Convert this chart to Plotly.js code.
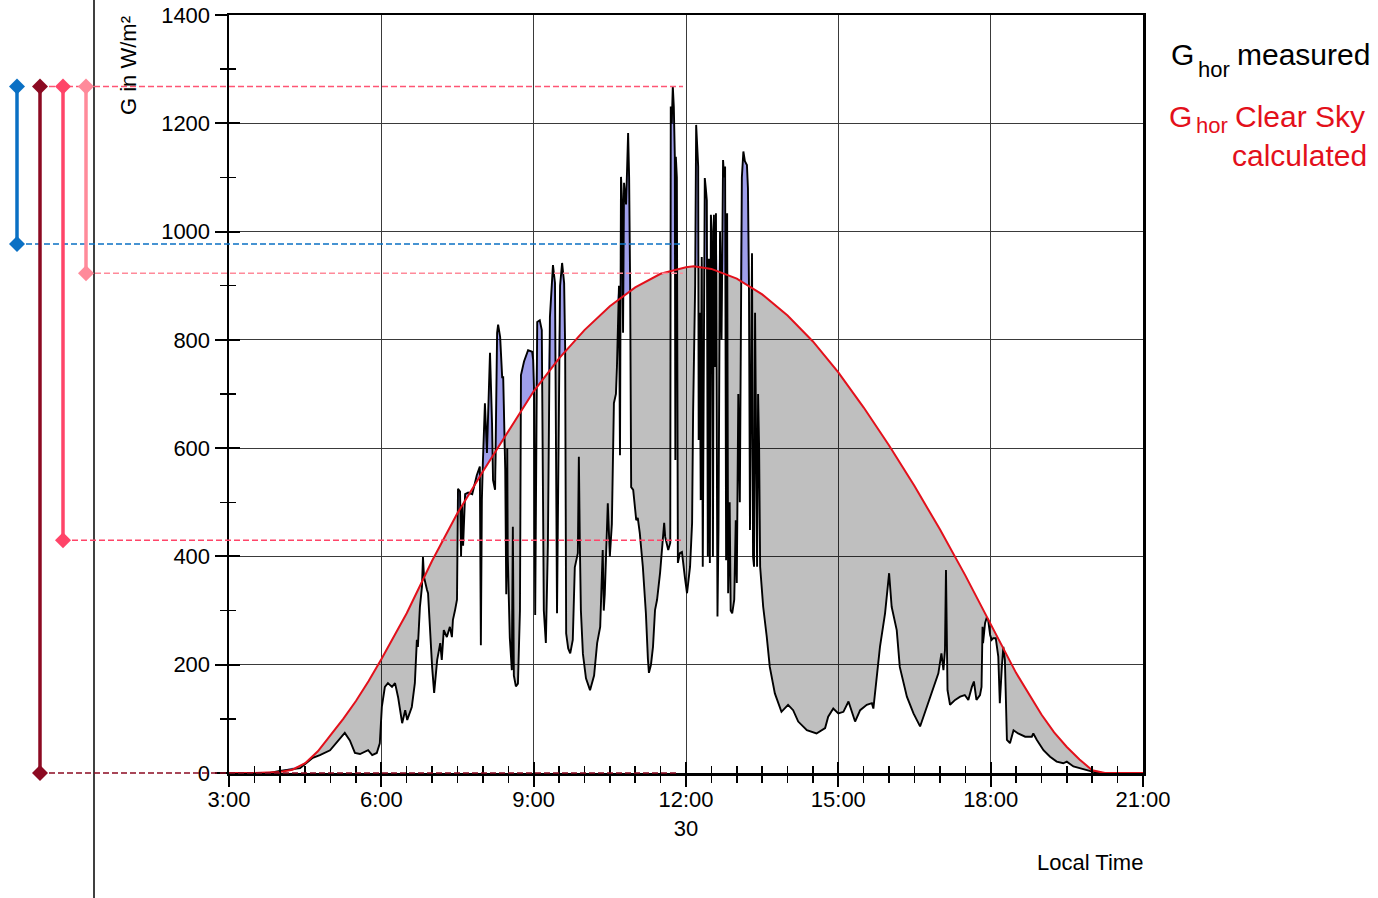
<!DOCTYPE html>
<html><head><meta charset="utf-8">
<script src="https://cdn.plot.ly/plotly-3.0.1.min.js"></script>
<style>html,body{margin:0;padding:0;background:#fff}#chart{width:1378px;height:898px}</style>
</head><body><div id="chart"></div>
<script>
// ---- data (hours of local time, W/m²) ----
const xTickVals = [3, 6, 9, 12, 15, 18, 21];
const xTickText = ['3:00', '6:00', '9:00', '12:00<br>30', '15:00', '18:00', '21:00'];

const csTime = [3, 3.5, 4, 4.25, 4.5, 4.75, 5, 5.25, 5.5, 5.75, 6, 6.5, 7, 7.5, 8, 8.5, 9, 9.5, 10, 10.5, 11, 11.5, 12, 12.15, 12.5, 13, 13.5, 14, 14.5, 15, 15.5, 16, 16.5, 17, 17.5, 18, 18.5, 19, 19.25, 19.5, 19.75, 20, 20.25, 21];
const csValue = [0, 0, 2, 6, 18, 40, 70, 100, 133, 170, 210, 295, 392, 480, 557, 632, 705, 766, 818, 862, 897, 922, 934, 936, 931, 913, 884, 845, 797, 740, 675, 605, 530, 450, 365, 275, 185, 108, 75, 48, 25, 5, 0, 0];

const measTime = [
3.00, 3.80, 4.00, 4.40, 4.65, 4.79, 4.99, 5.13, 5.28, 5.38, 5.48, 5.58, 5.74, 5.82, 5.91, 5.97,
6.01, 6.07, 6.13, 6.21, 6.27, 6.33, 6.41, 6.47, 6.51, 6.60, 6.66, 6.70, 6.72, 6.76, 6.80, 6.82, 6.84, 6.90, 6.92,
7.00, 7.04, 7.10, 7.16, 7.19, 7.23, 7.29, 7.35, 7.39, 7.41, 7.45, 7.49, 7.51, 7.55, 7.57, 7.59, 7.61, 7.65, 7.71, 7.79, 7.88, 7.94, 7.96, 7.98,
8.00, 8.04, 8.08, 8.14, 8.18, 8.20, 8.24, 8.28, 8.30, 8.34, 8.38, 8.40, 8.44, 8.46, 8.48, 8.49, 8.53, 8.57, 8.59, 8.61, 8.65, 8.69, 8.73, 8.75, 8.81, 8.89, 8.97, 8.99,
9.01, 9.03, 9.07, 9.12, 9.16, 9.18, 9.20, 9.24, 9.28, 9.32, 9.34, 9.38, 9.42, 9.44, 9.46, 9.48, 9.52, 9.56, 9.60, 9.62, 9.64, 9.68, 9.72, 9.77, 9.81, 9.87, 9.89, 9.91, 9.93, 9.97,
10.03, 10.11, 10.19, 10.25, 10.31, 10.36, 10.38, 10.40, 10.46, 10.50, 10.54, 10.58, 10.62, 10.64, 10.68, 10.70, 10.72, 10.74, 10.76, 10.78, 10.82, 10.86, 10.88, 10.90, 10.92, 10.96,
11.02, 11.05, 11.09, 11.15, 11.21, 11.25, 11.27, 11.31, 11.35, 11.39, 11.43, 11.49, 11.53, 11.57, 11.59, 11.65, 11.69, 11.70, 11.72, 11.74, 11.76, 11.78, 11.79, 11.80, 11.82, 11.84, 11.88, 11.92, 11.98,
12.02, 12.08, 12.12, 12.14, 12.18, 12.20, 12.22, 12.24, 12.25, 12.27, 12.29, 12.31, 12.33, 12.35, 12.37, 12.39, 12.41, 12.43, 12.45, 12.47, 12.49, 12.51, 12.53, 12.55, 12.57, 12.59, 12.62, 12.64, 12.67, 12.70, 12.73, 12.75, 12.77, 12.79, 12.81, 12.83, 12.86, 12.88, 12.91, 12.95, 12.98,
13.00, 13.03, 13.06, 13.10, 13.13, 13.16, 13.20, 13.22, 13.24, 13.26, 13.28, 13.30, 13.32, 13.34, 13.36, 13.38, 13.40, 13.42, 13.44, 13.46, 13.52, 13.59, 13.65, 13.75, 13.88,
14.01, 14.11, 14.21, 14.38, 14.57, 14.74, 14.80, 14.90,
15.00, 15.10, 15.20, 15.26, 15.33, 15.43, 15.56, 15.66, 15.69, 15.82, 15.92,
16.00, 16.05, 16.15, 16.21, 16.35, 16.48, 16.61, 16.74, 16.87, 16.97,
17.03, 17.07, 17.10, 17.12, 17.15, 17.20, 17.30, 17.40, 17.49, 17.56, 17.63, 17.67, 17.72, 17.79, 17.82, 17.84, 17.85, 17.89, 17.92, 17.95, 17.99,
18.02, 18.05, 18.10, 18.15, 18.18, 18.22, 18.25, 18.28, 18.32, 18.38, 18.45, 18.54, 18.68, 18.81, 18.84, 18.91,
19.04, 19.17, 19.30, 19.43, 19.50, 19.63, 19.82, 20.02, 20.20, 21.00];
const measValue = [
0, 0, 4, 9, 28, 33, 42, 57, 74, 60, 37, 35, 42, 33, 37, 55,
122, 159, 166, 159, 166, 140, 92, 116, 98, 122, 166, 246, 233, 307, 344, 399, 362, 338, 332,
196, 148, 209, 240, 209, 264, 251, 270, 251, 283, 300, 320, 525, 520, 400, 495, 420, 515, 518, 515, 550, 566, 236, 504,
575, 683, 591, 776, 646, 541, 523, 813, 828, 805, 731, 731, 560, 330, 600, 400, 250, 190, 455, 180, 160, 165, 300, 735, 760, 781, 778, 763,
700, 292, 833, 836, 818, 600, 300, 240, 420, 842, 870, 938, 905, 600, 295, 500, 900, 942, 905, 787, 258, 230, 221, 246, 380, 406, 584, 420, 300, 220,
175, 153, 180, 240, 270, 412, 300, 330, 498, 400, 460, 683, 700, 750, 900, 587, 1101, 1060, 813, 1090, 1050, 1182, 1100, 900, 528, 523,
467, 471, 443, 381, 295, 210, 185, 200, 233, 301, 320, 370, 420, 462, 436, 412, 425, 1231, 1200, 1268, 1231, 1138, 578, 1138, 1100, 388, 406, 408, 360,
332, 381, 462, 667, 900, 1197, 1151, 1120, 615, 850, 504, 953, 381, 700, 1099, 1080, 1058, 400, 950, 388, 1031, 1000, 399, 1031, 750, 1034, 289, 450, 1000, 800, 1132, 1100, 1120, 393, 1034, 332, 500, 300, 295, 320, 467,
351, 700, 500, 1100, 1148, 1130, 1123, 1080, 900, 449, 700, 960, 400, 381, 850, 500, 381, 700, 600, 381, 307, 252, 196, 147, 113,
126, 116, 95, 79, 73, 83, 104, 119,
110, 113, 132, 116, 95, 116, 126, 129, 119, 233, 295,
369, 307, 264, 196, 141, 110, 86, 122, 159, 184,
221, 190, 227, 375, 153, 126, 135, 141, 144, 135, 159, 169, 135, 144, 159, 270, 240, 277, 286, 283, 255,
246, 249, 249, 215, 129, 196, 233, 209, 61, 55, 79, 73, 67, 67, 73, 61,
42, 30, 21, 18, 21, 12, 7, 2, 0, 0];

// marked ranges on the left (W/m²)
const rangeTop = 1268;
const rangeLow = [977, 0, 430, 923];

// ---- styling ----
const FONT = '"Liberation Sans", Arial, Helvetica, sans-serif';
const RED = '#e3101b';
const Y_MAX = 1400;
const rangeColors = ['#0a70c4', '#8c0a22', '#ff4468', '#ff8a9a'];
const rangePx = [17, 40, 63, 86];
const dashEndPx = [683, 677, 683, 683];
const P = px => (px - 229) / 914;      // pixel -> paper x
const PY = py => (773 - py) / 758;     // pixel -> paper y
const VY = v => v / Y_MAX;             // value -> paper y (y domain is [0,1])

// clear sky aligned to measured time stamps (linear interpolation)
function csAt(t) {
  for (let i = 0; i < csTime.length - 1; i++) {
    if (t >= csTime[i] && t <= csTime[i + 1]) {
      const f = (t - csTime[i]) / (csTime[i + 1] - csTime[i]);
      return csValue[i] + f * (csValue[i + 1] - csValue[i]);
    }
  }
  return 0;
}
const csAligned = measTime.map(csAt);
const lowEdge = measValue.map((v, i) => Math.min(v, csAligned[i]));
const highEdge = measValue.map((v, i) => Math.max(v, csAligned[i]));

const traces = [
  {x: measTime, y: lowEdge, mode: 'lines', line: {width: 0}, hoverinfo: 'skip'},
  {x: measTime, y: csAligned, mode: 'lines', line: {width: 0}, fill: 'tonexty', fillcolor: 'rgba(0,0,0,0.25)', hoverinfo: 'skip'},
  {x: measTime, y: csAligned, mode: 'lines', line: {width: 0}, hoverinfo: 'skip'},
  {x: measTime, y: highEdge, mode: 'lines', line: {width: 0}, fill: 'tonexty', fillcolor: 'rgba(0,0,200,0.38)', hoverinfo: 'skip'},
  {x: measTime, y: measValue, mode: 'lines', line: {color: '#000', width: 1.9}, name: 'G hor measured'},
  {x: csTime, y: csValue, mode: 'lines', line: {color: RED, width: 2}, name: 'G hor Clear Sky calculated'},
  {x: csTime, y: csValue, xaxis: 'x2', yaxis: 'y2', mode: 'lines', opacity: 0, hoverinfo: 'skip', line: {width: 0}}
];

const shapes = [];
// vertical separator line
shapes.push({type: 'line', xref: 'paper', yref: 'paper', x0: P(94), x1: P(94), y0: PY(898), y1: PY(0), line: {color: '#000', width: 1.5}, layer: 'above'});
// dashed horizontal guide lines
shapes.push({type: 'line', xref: 'paper', yref: 'paper', x0: P(40), x1: P(683), y0: VY(rangeTop), y1: VY(rangeTop), line: {color: '#ff5574', width: 1.5, dash: '6px,3px'}, layer: 'above'});
rangeLow.forEach((v, i) => {
  shapes.push({type: 'line', xref: 'paper', yref: 'paper', x0: P(rangePx[i]), x1: P(dashEndPx[i]), y0: VY(v), y1: VY(v), line: {color: rangeColors[i], width: 1.5, dash: '6px,3px'}, layer: 'above'});
});
// vertical range bars
rangeLow.forEach((v, i) => {
  shapes.push({type: 'line', xref: 'paper', yref: 'paper', x0: P(rangePx[i]), x1: P(rangePx[i]), y0: VY(v), y1: VY(rangeTop), line: {color: rangeColors[i], width: 3.5}, layer: 'above'});
});
// diamonds at both ends
const diamond = 'M 0 8 L 8 0 L 0 -8 L -8 0 Z';
rangeLow.forEach((v, i) => {
  [v, rangeTop].forEach(yv => {
    shapes.push({type: 'path', xref: 'paper', yref: 'paper', xsizemode: 'pixel', ysizemode: 'pixel', xanchor: P(rangePx[i]), yanchor: VY(yv), path: diamond, fillcolor: rangeColors[i], line: {width: 0}, layer: 'above'});
  });
});

const ann = (text, px, py, opts) => Object.assign({text: text, xref: 'paper', yref: 'paper', x: P(px), y: PY(py), showarrow: false, xanchor: 'left', yanchor: 'middle', font: {family: FONT, size: 30, color: '#000'}}, opts || {});

const annotations = [
  ann('G in W/m²', 128, 66, {xanchor: 'center', textangle: -90, font: {family: FONT, size: 22, color: '#000'}}),
  ann('Local Time', 1145, 862, {xanchor: 'right', font: {family: FONT, size: 22, color: '#000'}}),
  ann('G', 1169, 55),
  ann('hor', 1196, 70, {font: {family: FONT, size: 22, color: '#000'}}),
  ann('measured', 1235, 55),
  ann('G', 1167, 116, {font: {family: FONT, size: 30, color: RED}}),
  ann('hor', 1194, 125, {font: {family: FONT, size: 22, color: RED}}),
  ann('Clear Sky', 1233, 116, {font: {family: FONT, size: 30, color: RED}}),
  ann('calculated', 1369, 155, {xanchor: 'right', font: {family: FONT, size: 30, color: RED}})
];

const axisCommon = {showline: true, linecolor: '#000', linewidth: 2.5, mirror: true, zeroline: false,
  showgrid: true, gridcolor: '#3a3a3a', gridwidth: 1, tickcolor: '#000', tickwidth: 2,
  tickfont: {family: FONT, size: 22, color: '#000'}, fixedrange: true};

const layout = {
  width: 1378, height: 898,
  margin: {l: 229, r: 235, t: 15, b: 125, pad: 0},
  paper_bgcolor: '#fff', plot_bgcolor: '#fff',
  showlegend: false,
  font: {family: FONT, size: 22, color: '#000'},
  xaxis: Object.assign({}, axisCommon, {
    range: [3, 21], tickmode: 'array', tickvals: xTickVals, ticktext: xTickText,
    ticks: 'outside', ticklen: 11, ticklabelstandoff: -6,
    minor: {tickmode: 'linear', tick0: 3, dtick: 0.5, ticks: 'outside', ticklen: 7, tickwidth: 1.5, tickcolor: '#000', showgrid: false}
  }),
  yaxis: Object.assign({}, axisCommon, {
    range: [0, Y_MAX], tickmode: 'linear', tick0: 0, dtick: 200,
    ticks: 'outside', ticklen: 12, ticklabelstandoff: 0,
    minor: {tickmode: 'linear', tick0: 0, dtick: 100, ticks: 'outside', ticklen: 7, tickwidth: 1.5, tickcolor: '#000', showgrid: false}
  }),
  xaxis2: {overlaying: 'x', anchor: 'y2', side: 'bottom', range: [3, 21], tickmode: 'array', tickvals: xTickVals,
    ticks: 'inside', ticklen: 11, tickwidth: 2, tickcolor: '#000', showticklabels: false, showgrid: false, showline: false, zeroline: false, fixedrange: true,
    minor: {tickmode: 'linear', tick0: 3, dtick: 0.5, ticks: 'inside', ticklen: 7, tickwidth: 1.5, tickcolor: '#000', showgrid: false}},
  yaxis2: {overlaying: 'y', anchor: 'x2', side: 'left', range: [0, Y_MAX], tickmode: 'linear', tick0: 0, dtick: 200,
    ticks: 'inside', ticklen: 11, tickwidth: 2, tickcolor: '#000', showticklabels: false, showgrid: false, showline: false, zeroline: false, fixedrange: true,
    minor: {tickmode: 'linear', tick0: 0, dtick: 100, ticks: 'inside', ticklen: 7, tickwidth: 1.5, tickcolor: '#000', showgrid: false}},
  shapes: shapes,
  annotations: annotations
};

Plotly.newPlot('chart', traces, layout, {staticPlot: true, displayModeBar: false});
</script></body></html>
